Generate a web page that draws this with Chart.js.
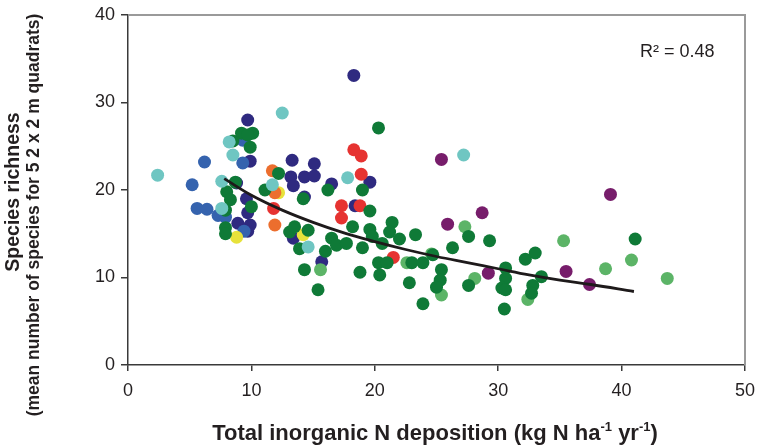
<!DOCTYPE html>
<html><head><meta charset="utf-8">
<script src="https://cdn.jsdelivr.net/npm/chart.js@4/dist/chart.umd.min.js"></script>
<style>html,body{margin:0;padding:0;background:#fff}#wrap{width:760px;height:447px}</style>
</head><body><div id="wrap"><canvas id="c"></canvas></div>
<script>
const xTicks = [0, 10, 20, 30, 40, 50];
const yTicks = [0, 10, 20, 30, 40];
const navy = [[18.3,33.1],[9.7,28.0],[9.9,23.3],[13.3,23.4],[15.1,23.0],[13.2,21.5],[14.3,21.5],[15.1,21.6],[13.4,20.5],[16.5,20.7],[19.6,20.9],[14.3,19.2],[18.4,18.2],[8.8,20.8],[9.6,19.0],[9.7,17.4],[8.9,16.2],[9.9,16.0],[9.7,15.3],[13.4,14.5],[15.7,11.8]];
const blue = [[6.2,23.2],[5.2,20.6],[5.6,17.9],[6.4,17.8],[7.3,17.1],[7.9,16.9],[9.3,23.1],[9.4,15.3],[9.3,25.7]];
const cyan = [[2.4,21.7],[12.5,28.8],[8.2,25.5],[8.5,24.0],[7.6,21.0],[7.6,17.9],[11.7,20.6],[14.6,13.5],[17.8,21.4],[27.2,24.0]];
const red = [[18.3,24.6],[18.9,23.9],[18.9,21.8],[17.3,18.2],[18.8,18.2],[17.3,16.8],[11.8,17.9],[21.5,12.3]];
const orange = [[11.7,22.2],[11.9,19.7],[11.9,16.0]];
const yellow = [[8.8,14.6],[12.2,19.7],[14.2,14.9]];
const purple = [[25.4,23.5],[28.7,17.4],[25.9,16.1],[29.2,10.5],[35.5,10.7],[37.4,9.2],[39.1,19.5]];
const lightGreen = [[27.3,15.8],[35.3,14.2],[28.1,9.9],[25.4,8.0],[32.4,7.5],[24.6,12.7],[38.7,11.0],[40.8,12.0],[43.7,9.9],[15.6,10.9],[22.6,11.7]];
const darkGreen = [[9.2,26.5],[10.1,26.5],[9.9,24.9],[8.5,25.6],[9.7,26.3],[12.2,21.9],[8.7,20.9],[8.0,19.8],[8.3,18.9],[7.9,17.7],[10.0,18.1],[7.9,15.7],[7.9,15.0],[11.1,20.0],[13.1,15.2],[13.5,15.8],[16.2,20.0],[14.2,19.0],[19.0,20.0],[19.6,17.6],[18.2,15.8],[14.6,15.4],[19.6,15.5],[21.4,16.3],[21.2,15.2],[23.3,14.9],[16.5,14.5],[20.3,27.1],[13.9,13.3],[14.3,10.9],[15.4,8.6],[16.0,13.0],[16.9,13.7],[17.7,13.9],[19.0,13.4],[18.8,10.6],[19.8,14.7],[20.6,13.9],[22.0,14.4],[20.3,11.7],[21.0,11.7],[20.4,10.3],[23.0,11.7],[23.9,11.7],[22.8,9.4],[23.9,7.0],[24.7,12.6],[26.3,13.4],[27.6,14.7],[29.3,14.2],[25.4,10.9],[25.3,9.7],[25.0,8.9],[27.6,9.1],[30.6,11.1],[30.6,9.9],[30.3,8.8],[30.6,8.6],[30.5,6.4],[32.2,12.1],[33.0,12.8],[32.8,9.1],[32.7,8.2],[33.5,10.1],[41.1,14.4]];
const trend = [[7.8,21.3],[10,19.4],[12.5,17.7],[15,16.3],[17.5,15.1],[20,14.1],[22.5,13.2],[25,12.4],[27.5,11.7],[30,11.0],[32.5,10.3],[35,9.7],[37.5,9.2],[41,8.4]];
const rSquared = 'R² = 0.48';

const pts = a => a.map(p => ({x: p[0], y: p[1]}));
const dot = (data, color, order) => ({type: 'scatter', data: pts(data), backgroundColor: color, borderWidth: 0, pointRadius: 6.5, pointHoverRadius: 6.5, order});
const TXT = '#231f20';
const FF = '"Liberation Sans", Arial, sans-serif';

const overlay = {
  id: 'overlay',
  afterDraw(chart) {
    const ctx = chart.ctx, a = chart.chartArea;
    ctx.save();
    ctx.strokeStyle = '#9a9a9a'; ctx.lineWidth = 2;
    ctx.beginPath(); ctx.moveTo(a.left, a.top); ctx.lineTo(a.right, a.top); ctx.lineTo(a.right, a.bottom); ctx.stroke();
    ctx.fillStyle = TXT;
    ctx.font = '18px ' + FF;
    ctx.textAlign = 'left'; ctx.textBaseline = 'middle';
    ctx.fillText(rSquared, 640, 52);
    // x title
    const mainFont = 'bold 22px ' + FF;
    const supFont = 'bold 13px ' + FF;
    ctx.textBaseline = 'alphabetic';
    const parts = [['Total inorganic N deposition (kg N ha', mainFont, 0], ['-1', supFont, -9], [' yr', mainFont, 0], ['-1', supFont, -9], [')', mainFont, 0]];
    const w = (t, f) => { ctx.font = f; return ctx.measureText(t).width; };
    const total = parts.reduce((s, p) => s + w(p[0], p[1]), 0);
    let x = 435 - total / 2; const by = 440;
    ctx.textAlign = 'left';
    parts.forEach(p => { ctx.font = p[1]; ctx.fillText(p[0], x, by + p[2]); x += ctx.measureText(p[0]).width; });
    // y titles
    ctx.save(); ctx.translate(14, 192); ctx.rotate(-Math.PI / 2);
    ctx.textAlign = 'center'; ctx.textBaseline = 'middle';
    ctx.font = 'bold 19.5px ' + FF;
    ctx.fillText('Species richness', 0, 0);
    ctx.restore();
    ctx.save(); ctx.translate(34, 215); ctx.rotate(-Math.PI / 2);
    ctx.textAlign = 'center'; ctx.textBaseline = 'middle';
    ctx.font = 'bold 17.5px ' + FF;
    ctx.fillText('(mean number of species for 5 2 x 2 m quadrats)', 0, 0);
    ctx.restore();
    ctx.restore();
  }
};

new Chart(document.getElementById('c'), {
  data: {
    datasets: [
      {type: 'line', data: pts(trend), borderColor: '#1e1a1b', borderWidth: 2.8, pointRadius: 0, tension: 0.4, fill: false, order: 0},
      dot(cyan, '#6fc6c2', 1),
      dot(darkGreen, '#0f7a37', 2),
      dot(lightGreen, '#5cb467', 3),
      dot(purple, '#771d6b', 4),
      dot(red, '#e63331', 5),
      dot(orange, '#ec6e2e', 6),
      dot(yellow, '#e7e23b', 7),
      dot(blue, '#3563ae', 8),
      dot(navy, '#2f2a80', 9)
    ]
  },
  options: {
    responsive: true, maintainAspectRatio: false, animation: false,
    layout: {padding: {left: 0, right: 15, top: 15, bottom: 0}},
    plugins: {legend: {display: false}, tooltip: {enabled: false}},
    scales: {
      x: {type: 'linear', min: 0, max: 50,
        afterBuildTicks: s => { s.ticks = xTicks.map(v => ({value: v})); },
        afterFit: s => { s.height = 82; s.paddingLeft = 0; s.paddingRight = 0; },
        grid: {drawOnChartArea: false, drawTicks: true, tickLength: 6, tickColor: '#3a3a3a', lineWidth: 1.5},
        border: {color: '#3a3a3a', width: 1.5},
        ticks: {color: TXT, font: {family: FF, size: 18}, padding: 9, maxRotation: 0}
      },
      y: {type: 'linear', min: 0, max: 40,
        afterBuildTicks: s => { s.ticks = yTicks.map(v => ({value: v})); },
        afterFit: s => { s.width = 128; s.paddingTop = 0; s.paddingBottom = 0; },
        grid: {drawOnChartArea: false, drawTicks: true, tickLength: 7, tickColor: '#3a3a3a', lineWidth: 1.5},
        border: {color: '#3a3a3a', width: 1.5},
        ticks: {color: TXT, font: {family: FF, size: 18}, padding: 6}
      }
    }
  },
  plugins: [overlay]
});
</script></body></html>
